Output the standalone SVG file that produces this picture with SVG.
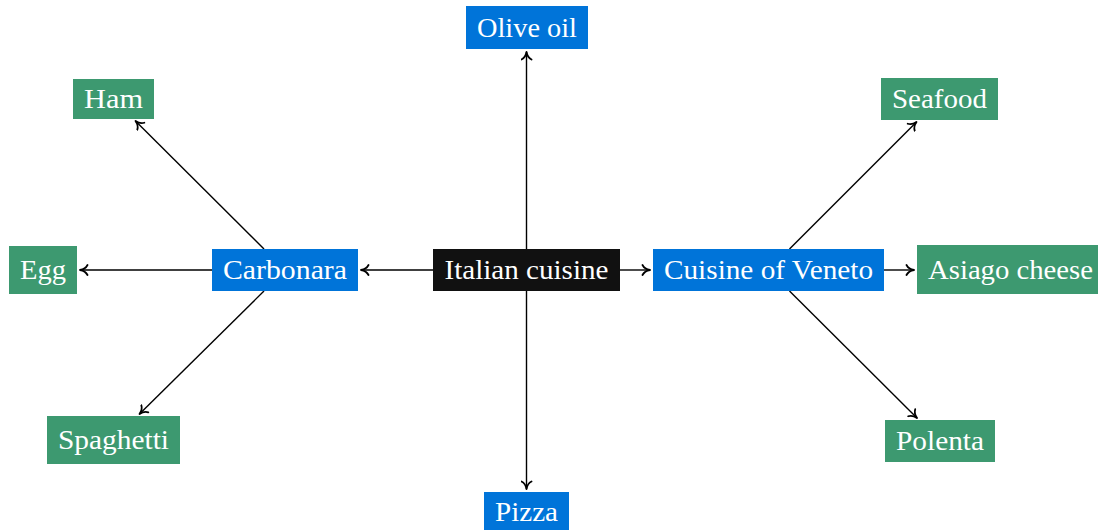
<svg xmlns="http://www.w3.org/2000/svg" width="1098" height="530" viewBox="0 0 1098 530">
<style>
.blue{fill:#0074D9}
.green{fill:#3D9970}
.dark{fill:#111111}
.lbl{font-family:"Liberation Serif",serif;font-size:27px;fill:#ffffff;text-anchor:middle}
.edge{stroke:#000;stroke-width:1.4;fill:none;marker-end:url(#tip)}
</style>
<defs>
<marker id="tip" markerUnits="userSpaceOnUse" viewBox="-10 -6 12 12" refX="0" refY="0" markerWidth="12" markerHeight="12" orient="auto">
<path d="M -7.5 -5 C -6 -2 -2.8 -0.5 0 0 C -2.8 0.5 -6 2 -7.5 5" fill="none" stroke="#000" stroke-width="1.8" stroke-linecap="round" stroke-linejoin="round"/>
</marker>
</defs>
<g id="connectors">
<line class="edge" x1="526.5" y1="249" x2="526.5" y2="52"/>
<line class="edge" x1="526.5" y1="291" x2="526.5" y2="489"/>
<line class="edge" x1="433" y1="270" x2="361" y2="270"/>
<line class="edge" x1="620" y1="270" x2="650" y2="270"/>
<line class="edge" x1="264" y1="249" x2="135.5" y2="121"/>
<line class="edge" x1="212" y1="270" x2="80" y2="270"/>
<line class="edge" x1="264" y1="291" x2="139.5" y2="414"/>
<line class="edge" x1="789.5" y1="249" x2="916.5" y2="122"/>
<line class="edge" x1="884" y1="270" x2="914" y2="270"/>
<line class="edge" x1="789.5" y1="291" x2="917" y2="418"/>
</g>
<g id="italian-cuisine"><rect class="dark" x="433" y="249" width="187" height="42"/><text class="lbl" x="526.5" y="279" textLength="164" lengthAdjust="spacingAndGlyphs">Italian cuisine</text></g>
<g id="cuisine-of-veneto"><rect class="blue" x="653" y="249" width="231" height="42"/><text class="lbl" x="768.5" y="279" textLength="209" lengthAdjust="spacingAndGlyphs">Cuisine of Veneto</text></g>
<g id="carbonara"><rect class="blue" x="212" y="249" width="146" height="42"/><text class="lbl" x="285" y="279" textLength="124" lengthAdjust="spacingAndGlyphs">Carbonara</text></g>
<g id="olive-oil"><rect class="blue" x="466" y="6" width="122" height="43"/><text class="lbl" x="527" y="37" textLength="100" lengthAdjust="spacingAndGlyphs">Olive oil</text></g>
<g id="pizza"><rect class="blue" x="484" y="492" width="85" height="40"/><text class="lbl" x="526.5" y="521" textLength="63" lengthAdjust="spacingAndGlyphs">Pizza</text></g>
<g id="ham"><rect class="green" x="73" y="79" width="81" height="40"/><text class="lbl" x="113.5" y="108" textLength="59" lengthAdjust="spacingAndGlyphs">Ham</text></g>
<g id="egg"><rect class="green" x="9" y="246" width="68" height="48"/><text class="lbl" x="43" y="279" textLength="46" lengthAdjust="spacingAndGlyphs">Egg</text></g>
<g id="spaghetti"><rect class="green" x="47" y="416" width="133" height="48"/><text class="lbl" x="113.5" y="449" textLength="111" lengthAdjust="spacingAndGlyphs">Spaghetti</text></g>
<g id="seafood"><rect class="green" x="881" y="78" width="117" height="42"/><text class="lbl" x="939.5" y="108" textLength="95" lengthAdjust="spacingAndGlyphs">Seafood</text></g>
<g id="asiago-cheese"><rect class="green" x="917" y="245" width="187" height="49"/><text class="lbl" x="1010.5" y="279" textLength="165" lengthAdjust="spacingAndGlyphs">Asiago cheese</text></g>
<g id="polenta"><rect class="green" x="885" y="420" width="110" height="42"/><text class="lbl" x="940" y="450" textLength="88" lengthAdjust="spacingAndGlyphs">Polenta</text></g>
</svg>
